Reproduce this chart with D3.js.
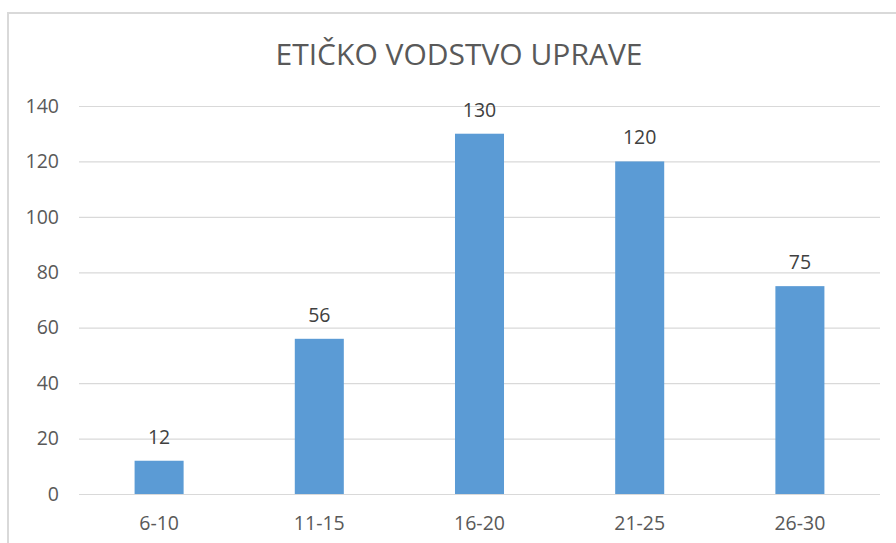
<!DOCTYPE html>
<html><head><meta charset="utf-8">
<script src="https://cdn.jsdelivr.net/npm/d3@7"></script>
<style>body{margin:0;background:#fff;}svg{display:block;font-family:"Open Sans",sans-serif;}</style>
</head><body>
<svg id="c" width="896" height="543"></svg>
<script>
const categories = ["6-10","11-15","16-20","21-25","26-30"];
const values = [12,56,130,120,75];
const yTicks = [0,20,40,60,80,100,120,140];
const title = "ETIČKO VODSTVO UPRAVE";

(function(){
const svg = d3.select("#c");
const W=896,H=543;
svg.append("rect").attr("x",8).attr("y",13).attr("width",W+10).attr("height",H+10)
  .attr("fill","#fff").attr("stroke","#d9d9d9").attr("stroke-width",2);

const pL=79,pR=880,pT=106,pB=494;
const x=d3.scaleBand().domain(categories).range([pL,pR]).paddingInner(0.694).paddingOuter(0.347);
const y=d3.scaleLinear().domain([0,140]).range([pB,pT]);

const g=svg.append("g");
const yAxis=d3.axisLeft(y).tickValues(yTicks).tickSize(-(pR-pL)).tickPadding(20);
const ya=g.append("g").attr("transform",`translate(${pL},0)`).call(yAxis);
ya.select(".domain").remove();
ya.selectAll("line").attr("stroke","#d9d9d9").attr("stroke-width",1.2);
ya.selectAll("text").attr("fill","#595959").attr("font-size",19.5).attr("font-family","Open Sans");

g.selectAll("rect.bar").data(values).join("rect").attr("class","bar")
 .attr("x",(d,i)=>x(categories[i])).attr("width",x.bandwidth())
 .attr("y",d=>y(d)).attr("height",d=>y(0)-y(d)).attr("fill","#5b9bd5");

g.selectAll("text.lbl").data(values).join("text").attr("class","lbl")
 .attr("x",(d,i)=>x(categories[i])+x.bandwidth()/2).attr("y",d=>y(d)-17)
 .attr("text-anchor","middle").attr("fill","#404040").attr("font-size",19.5).text(d=>d);

const xAxis=d3.axisBottom(x).tickSize(0).tickPadding(22);
const xa=g.append("g").attr("transform",`translate(0,${pB})`).call(xAxis);
xa.select(".domain").remove();
xa.selectAll("text").attr("fill","#595959").attr("font-size",19.5).attr("font-family","Open Sans");

svg.append("text").attr("x",459).attr("y",65).attr("text-anchor","middle")
  .attr("fill","#595959").attr("font-size",30).text(title);
})();
</script>
</body></html>
